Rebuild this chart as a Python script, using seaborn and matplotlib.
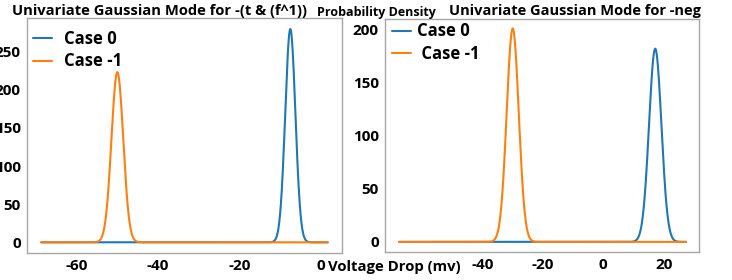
import numpy as np
import pandas as pd
import matplotlib
matplotlib.use("Agg")
import matplotlib.pyplot as plt
import seaborn as sns

# ---- data ----
cases = ["Case 0", "Case -1"]
# left panel: -(t & (f^1))
left_mean = [-7.5, -50.0]
left_sigma = [1.25, 1.45]
left_peak = [279.5, 223.0]
left_xrange = [-68.7, 1.7]
left_xticks = [-60, -40, -20, 0]
left_yticks = [0, 50, 100, 150, 200, 250]
# right panel: -neg
right_mean = [17.2, -30.0]
right_sigma = [2.05, 2.0]
right_peak = [181.6, 200.6]
right_xrange = [-67.6, 27.4]
right_xticks = [-60, -40, -20, 0, 20]
right_yticks = [0, 50, 100, 150, 200]

left_title = "Univariate Gaussian Mode for -(t & (f^1))"
right_title = "Univariate Gaussian Mode for -neg"
ylabel_text = "Probability Density"
xlabel_text = "Voltage Drop (mv)"


def build(means, sigmas, peaks, xr):
    x = np.linspace(xr[0], xr[1], 1500)
    frames = []
    for c, m, s, p in zip(cases, means, sigmas, peaks):
        y = p * np.exp(-0.5 * ((x - m) / s) ** 2)
        frames.append(pd.DataFrame({"x": x, "y": y, "case": c}))
    return pd.concat(frames, ignore_index=True)


sns.set_theme(style="white")
FAM = ["Open Sans", "DejaVu Sans"]
plt.rcParams["font.family"] = FAM
plt.rcParams["font.weight"] = "bold"
plt.rcParams["text.color"] = "black"
plt.rcParams["xtick.color"] = "black"
plt.rcParams["ytick.color"] = "black"

fig = plt.figure(figsize=(7.32, 2.80), dpi=100)
axL = fig.add_axes([27 / 732, 1 - 253 / 280, 315 / 732, 235 / 280])
axR = fig.add_axes([385 / 732, 1 - 252 / 280, 314 / 732, 233 / 280])

palette = {"Case 0": "#1f77b4", "Case -1": "#ff7f0e"}
dfL = build(left_mean, left_sigma, left_peak, left_xrange)
dfR = build(right_mean, right_sigma, right_peak, right_xrange)

for ax, df in [(axL, dfL), (axR, dfR)]:
    sns.lineplot(data=df, x="x", y="y", hue="case", palette=palette,
                 ax=ax, linewidth=1.5, legend=True)
    ax.set_xlabel("")
    ax.set_ylabel("")
    for sp in ax.spines.values():
        sp.set_color("#a6a6a6")
        sp.set_linewidth(1.0)
    ax.tick_params(axis="both", which="both", length=3, width=0.8,
                   color="#808080", labelcolor="black", pad=1.5)

axL.set_xlim(-72.2, 5.2)
axR.set_xlim(-72.3, 31.7)
axL.set_ylim(-14, 294)
axR.set_ylim(-9.5, 209.5)

tick_font = dict(fontsize=11, fontweight="bold", family=FAM, color="black")
axL.set_xticks(left_xticks, [str(v) for v in left_xticks], **tick_font)
axL.set_yticks(left_yticks, [str(v) for v in left_yticks], **tick_font)
axR.set_xticks(right_xticks, ["" if v == -60 else str(v) for v in right_xticks], **tick_font)
axR.set_yticks(right_yticks, [str(v) for v in right_yticks], **tick_font)

leg_prop = {"weight": "bold", "size": 12, "family": FAM}
hL, _ = axL.get_legend_handles_labels()
axL.legend(hL, ["Case 0", "Case -1"], loc="upper left",
           bbox_to_anchor=(0.02, 0.948), frameon=False, borderpad=0,
           borderaxespad=0, handlelength=1.15, handletextpad=0.7,
           labelspacing=0.25, prop=leg_prop)
hR, _ = axR.get_legend_handles_labels()
axR.legend(hR, ["Case 0", " Case -1"], loc="upper left",
           bbox_to_anchor=(0.022, 0.985), frameon=False, borderpad=0,
           borderaxespad=0, handlelength=1.15, handletextpad=0.35,
           labelspacing=0.25, prop=leg_prop)

fig.text(12 / 732, 1 - 15 / 280, left_title, fontsize=10.6,
         fontweight="bold", family=FAM, ha="left", va="baseline")
fig.text(449 / 732, 1 - 15 / 280, right_title, fontsize=10.5,
         fontweight="bold", family=FAM, ha="left", va="baseline")
fig.text(317 / 732, 1 - 16 / 280, ylabel_text, fontsize=9,
         fontweight="bold", family=FAM, ha="left", va="baseline")
fig.text(328 / 732, 1 - 271 / 280, xlabel_text, fontsize=10.7,
         fontweight="bold", family=FAM, ha="left", va="baseline",
         bbox=dict(facecolor="white", edgecolor="none", pad=0.5))

fig.savefig("out.png", dpi=100)
